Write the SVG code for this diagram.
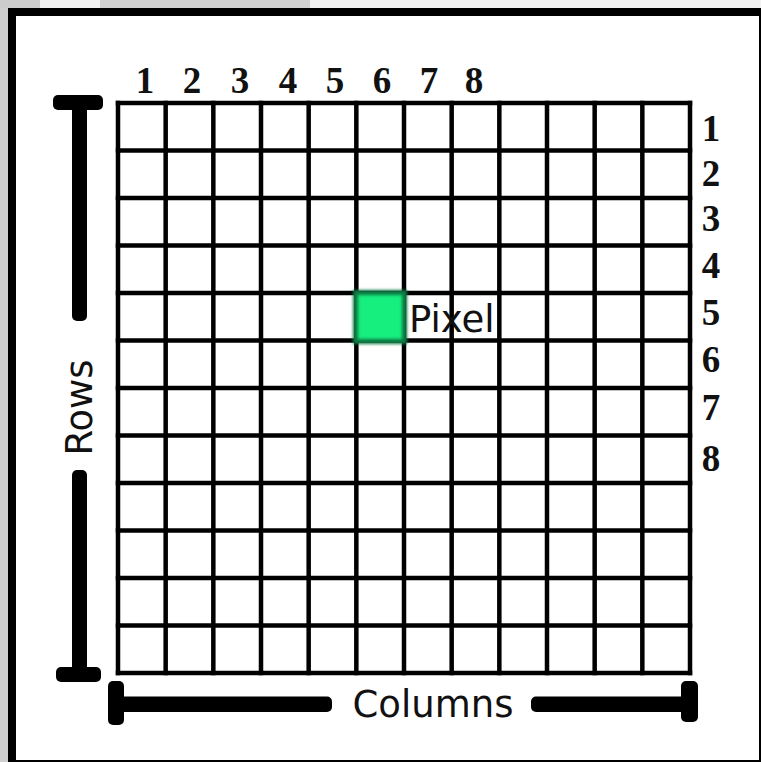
<svg xmlns="http://www.w3.org/2000/svg" width="761" height="762" viewBox="0 0 761 762">
  <style>
    .grid line { stroke: #000; stroke-width: 4.5; stroke-linecap: square; }
    .num { font-family: "Liberation Serif", "Times New Roman", serif; font-weight: bold; font-size: 37px; fill: #111; text-anchor: middle; }
    .lbl { font-family: "DejaVu Sans", "Liberation Sans", sans-serif; font-size: 37px; fill: #111; }
    .bar { fill: #000; }
  </style>
  <defs>
    <filter id="soft" x="-20%" y="-20%" width="140%" height="140%">
      <feGaussianBlur stdDeviation="1.6"/>
    </filter>
  </defs>

  <!-- outside background -->
  <rect x="0" y="0" width="761" height="762" fill="#f2f2f2"/>
  <rect x="0" y="0" width="8" height="762" fill="#cfcfcf"/>
  <rect x="0" y="0" width="40" height="8" fill="#cccccc"/>
  <rect x="100" y="0" width="210" height="8" fill="#d0d0d0"/>

  <!-- frame -->
  <rect x="8" y="8" width="753" height="754" fill="#000"/>
  <rect x="16" y="16" width="743" height="744" fill="#fff"/>

  <!-- grid -->
  <g id="grid" class="grid">
    <line x1="118" y1="103" x2="118" y2="673"/>
    <line x1="165.67" y1="103" x2="165.67" y2="673"/>
    <line x1="213.33" y1="103" x2="213.33" y2="673"/>
    <line x1="261" y1="103" x2="261" y2="673"/>
    <line x1="308.67" y1="103" x2="308.67" y2="673"/>
    <line x1="356.33" y1="103" x2="356.33" y2="673"/>
    <line x1="404" y1="103" x2="404" y2="673"/>
    <line x1="451.67" y1="103" x2="451.67" y2="673"/>
    <line x1="499.33" y1="103" x2="499.33" y2="673"/>
    <line x1="547" y1="103" x2="547" y2="673"/>
    <line x1="594.67" y1="103" x2="594.67" y2="673"/>
    <line x1="642.33" y1="103" x2="642.33" y2="673"/>
    <line x1="690" y1="103" x2="690" y2="673"/>
    <line x1="118" y1="103" x2="690" y2="103"/>
    <line x1="118" y1="150.5" x2="690" y2="150.5"/>
    <line x1="118" y1="198" x2="690" y2="198"/>
    <line x1="118" y1="245.5" x2="690" y2="245.5"/>
    <line x1="118" y1="293" x2="690" y2="293"/>
    <line x1="118" y1="340.5" x2="690" y2="340.5"/>
    <line x1="118" y1="388" x2="690" y2="388"/>
    <line x1="118" y1="435.5" x2="690" y2="435.5"/>
    <line x1="118" y1="483" x2="690" y2="483"/>
    <line x1="118" y1="530.5" x2="690" y2="530.5"/>
    <line x1="118" y1="578" x2="690" y2="578"/>
    <line x1="118" y1="625.5" x2="690" y2="625.5"/>
    <line x1="118" y1="673" x2="690" y2="673"/>
  </g>

  <!-- pixel -->
  <g id="pixel">
    <rect x="353" y="290" width="54" height="54" fill="#0b7a42" filter="url(#soft)"/>
    <rect x="358" y="295" width="44" height="44" fill="#14ee7e" filter="url(#soft)"/>
    <text class="lbl" x="409" y="332">Pixel</text>
  </g>

  <!-- column numbers -->
  <g id="col-numbers">
    <text class="num" x="145" y="93">1</text>
    <text class="num" x="192" y="93">2</text>
    <text class="num" x="240" y="93">3</text>
    <text class="num" x="288" y="93">4</text>
    <text class="num" x="335" y="93">5</text>
    <text class="num" x="382" y="93">6</text>
    <text class="num" x="429" y="93">7</text>
    <text class="num" x="474" y="93">8</text>
  </g>

  <!-- row numbers -->
  <g id="row-numbers">
    <text class="num" x="711" y="141">1</text>
    <text class="num" x="711" y="186">2</text>
    <text class="num" x="711" y="231">3</text>
    <text class="num" x="711" y="278">4</text>
    <text class="num" x="711" y="325">5</text>
    <text class="num" x="711" y="372">6</text>
    <text class="num" x="711" y="420">7</text>
    <text class="num" x="711" y="471">8</text>
  </g>

  <!-- rows axis -->
  <g id="rows-axis">
    <rect class="bar" x="53" y="95" width="50" height="15" rx="5"/>
    <rect class="bar" x="72" y="100" width="15" height="221" rx="5"/>
    <rect class="bar" x="72" y="470" width="15" height="205" rx="5"/>
    <rect class="bar" x="56" y="667" width="45" height="15" rx="5"/>
    <text class="lbl" transform="translate(92,407.5) rotate(-90)" text-anchor="middle">Rows</text>
  </g>

  <!-- columns axis -->
  <g id="columns-axis">
    <rect class="bar" x="108" y="681" width="16" height="44" rx="5"/>
    <rect class="bar" x="112" y="696.5" width="220" height="15.5" rx="5"/>
    <rect class="bar" x="531" y="696.5" width="160" height="15.5" rx="5"/>
    <rect class="bar" x="681" y="681" width="17" height="41" rx="5"/>
    <text class="lbl" x="433" y="717" text-anchor="middle">Columns</text>
  </g>
</svg>
